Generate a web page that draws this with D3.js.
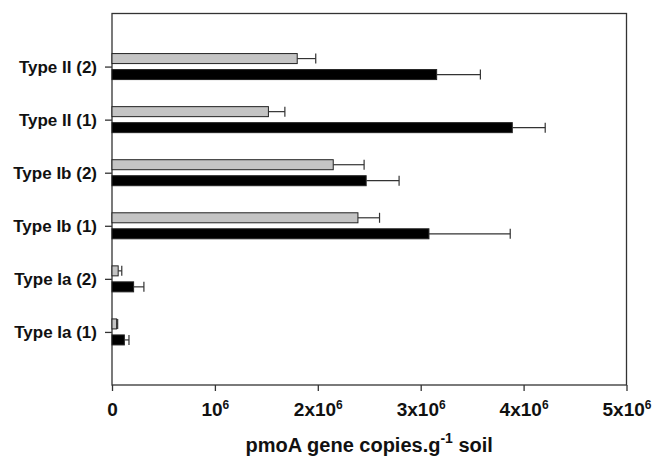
<!DOCTYPE html>
<html>
<head>
<meta charset="utf-8">
<script src="https://cdn.jsdelivr.net/npm/d3@7"></script>
<style>
  body { margin: 0; background: #fff; }
  text { font-family: "Liberation Sans", Arial, sans-serif; font-weight: bold; fill: #111; }
</style>
</head>
<body>
<div id="chart"></div>
<script>
// Data
const categories = ["Type Ia (1)", "Type Ia (2)", "Type Ib (1)", "Type Ib (2)", "Type II (1)", "Type II (2)"];
const grayValues = [0.045e6, 0.06e6, 2.39e6, 2.15e6, 1.52e6, 1.80e6];
const grayErrors = [0.01e6, 0.035e6, 0.21e6, 0.30e6, 0.16e6, 0.18e6];
const blackValues = [0.12e6, 0.21e6, 3.08e6, 2.47e6, 3.89e6, 3.155e6];
const blackErrors = [0.045e6, 0.10e6, 0.79e6, 0.32e6, 0.32e6, 0.425e6];
const xTicks = [0, 1e6, 2e6, 3e6, 4e6, 5e6];

const margin = { top: 13.5, right: 28.5, bottom: 73, left: 112 };
const W = 655, H = 458;
const width = W - margin.left - margin.right;
const height = H - margin.top - margin.bottom;

const svg = d3.select("#chart")
    .append("svg")
    .attr("width", W)
    .attr("height", H)
    .append("g")
    .attr("transform", `translate(${margin.left},${margin.top})`);

const x = d3.scaleLinear().domain([0, 5e6]).range([0, width]);
// categories sit at positions 1..6 of a 0..7 scale (empty slot top and bottom)
const y = d3.scaleLinear().domain([0, 7]).range([height, 0]);

const barH = 10, gap = 3;

// Frame
svg.append("rect")
    .attr("width", width)
    .attr("height", height)
    .attr("fill", "none")
    .attr("stroke", "#333")
    .attr("stroke-width", 1.3);

// X axis
const fmt = d => {
    if (d === 0) return [["0", false]];
    const m = d / 1e6;
    return m === 1 ? [["10", false], ["6", true]] : [[m + "x10", false], ["6", true]];
};

const xAxis = svg.append("g")
    .attr("transform", `translate(0,${height})`)
    .call(d3.axisBottom(x).tickValues(xTicks).tickSize(6).tickFormat(""));
xAxis.select(".domain").remove();
xAxis.selectAll("line").attr("stroke", "#333").attr("stroke-width", 1.3);
xAxis.selectAll(".tick").each(function(d) {
    const t = d3.select(this).append("text")
        .attr("y", 31)
        .attr("text-anchor", "middle")
        .style("font-size", "19px");
    fmt(d).forEach(([s, sup]) => {
        const ts = t.append("tspan").text(s);
        if (sup) ts.attr("dy", -7).style("font-size", "12px");
    });
});

// Y axis
const yAxis = svg.append("g")
    .call(d3.axisLeft(y).tickValues(d3.range(1, 7)).tickSize(7)
        .tickFormat(d => categories[d - 1]));
yAxis.select(".domain").remove();
yAxis.selectAll("line").attr("stroke", "#333").attr("stroke-width", 1.3);
yAxis.selectAll("text")
    .attr("x", -15)
    .attr("dy", "0.35em")
    .style("font-size", "17px")
    .style("fill", "#111");

// Bars
const rows = categories.map((c, i) => ({
    pos: i + 1,
    g: grayValues[i], ge: grayErrors[i],
    b: blackValues[i], be: blackErrors[i]
}));

function drawSeries(key, errKey, offset, fill) {
    const grp = svg.append("g");
    grp.selectAll("rect")
        .data(rows)
        .enter()
        .append("rect")
        .attr("x", 0)
        .attr("y", d => y(d.pos) + offset)
        .attr("width", d => x(d[key]))
        .attr("height", barH)
        .attr("fill", fill)
        .attr("stroke", "#222")
        .attr("stroke-width", 1);

    // error bars (one-sided)
    grp.selectAll("line.err")
        .data(rows)
        .enter()
        .append("line")
        .attr("x1", d => x(d[key]))
        .attr("x2", d => x(d[key] + d[errKey]))
        .attr("y1", d => y(d.pos) + offset + barH / 2)
        .attr("y2", d => y(d.pos) + offset + barH / 2)
        .attr("stroke", "#333")
        .attr("stroke-width", 1.2);
    grp.selectAll("line.cap")
        .data(rows)
        .enter()
        .append("line")
        .attr("x1", d => x(d[key] + d[errKey]))
        .attr("x2", d => x(d[key] + d[errKey]))
        .attr("y1", d => y(d.pos) + offset)
        .attr("y2", d => y(d.pos) + offset + barH)
        .attr("stroke", "#333")
        .attr("stroke-width", 1.2);
}

drawSeries("g", "ge", -gap - barH, "#c4c4c4");
drawSeries("b", "be", gap, "#000");

// Axis title
const title = svg.append("text")
    .attr("x", width / 2)
    .attr("y", height + 67)
    .attr("text-anchor", "middle")
    .style("font-size", "20px");
title.append("tspan").text("pmoA gene copies.g");
title.append("tspan").text("-1").attr("dy", -9).style("font-size", "14px");
title.append("tspan").text(" soil").attr("dy", 9);
</script>
</body>
</html>
